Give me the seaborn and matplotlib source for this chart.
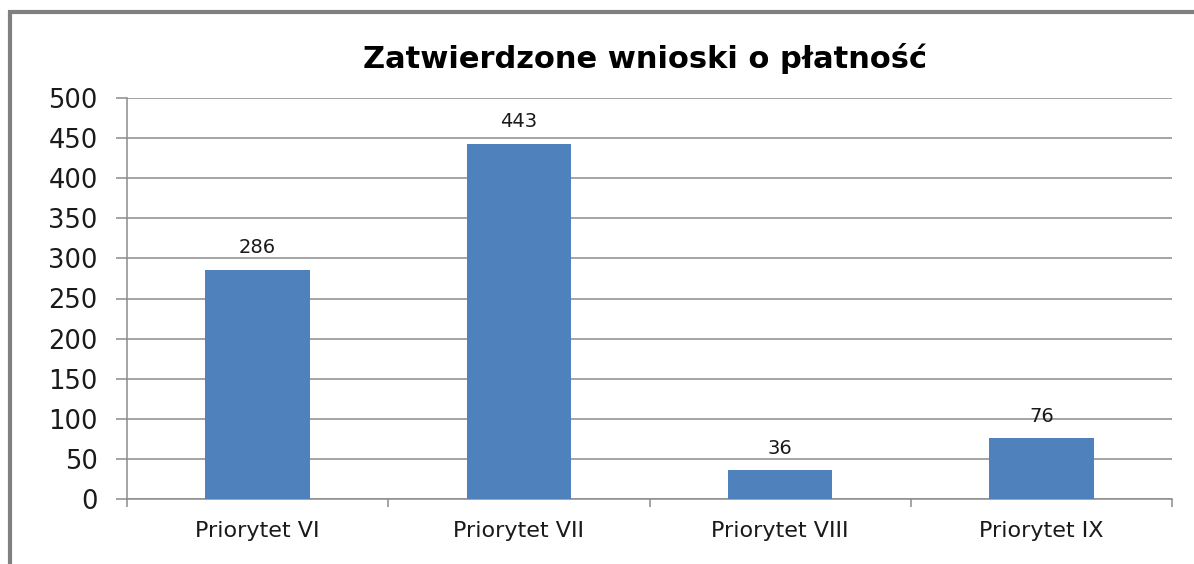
import matplotlib
matplotlib.use("Agg")
import matplotlib.pyplot as plt
from matplotlib.patches import Rectangle
import seaborn as sns
import pandas as pd

categories = ["Priorytet VI", "Priorytet VII", "Priorytet VIII", "Priorytet IX"]
values = [286, 443, 36, 76]
title = "Zatwierdzone wnioski o płatność"
yticks = [0, 50, 100, 150, 200, 250, 300, 350, 400, 450, 500]

sns.set_theme(style="white")
plt.rcParams['font.family'] = ['DejaVu Sans']

df = pd.DataFrame({"cat": categories, "val": values})

fig = plt.figure(figsize=(11.94, 5.64), dpi=100)
ax = fig.add_axes([127/1194, 1-499/564, (1172-127)/1194, (499-98)/564])

sns.barplot(data=df, x="cat", y="val", color="#4F81BD", saturation=1, width=0.4,
            linewidth=0, ax=ax, zorder=3)

ax.set_ylim(0, 500)
ax.set_xlim(-0.5, len(categories) - 0.5)
ax.set_yticks(yticks)
ax.set_yticklabels([str(t) for t in yticks], fontsize=18.5, color="#1a1a1a")
ax.yaxis.grid(True, color="#8c8c8c", linewidth=1.1, zorder=0)
ax.set_axisbelow(True)

# category boundaries as major ticks, labels at centers as minor ticks
ax.set_xticks([i - 0.5 for i in range(len(categories) + 1)])
ax.set_xticklabels([])
ax.set_xticks(range(len(categories)), minor=True)
ax.set_xticklabels(categories, minor=True, fontsize=16, color="#1a1a1a")
ax.tick_params(axis="x", which="major", direction="out", length=6, width=1.1, color="#8c8c8c", bottom=True)
ax.tick_params(axis="x", which="minor", length=0, pad=16, bottom=True)
ax.tick_params(axis="y", direction="out", length=8, width=1.1, color="#8c8c8c", pad=13, left=True)
ax.set_xlabel("")
ax.set_ylabel("")

for s in ["top", "right"]:
    ax.spines[s].set_visible(False)
for s in ["left", "bottom"]:
    ax.spines[s].set_color("#8c8c8c")
    ax.spines[s].set_linewidth(1.1)

ax.bar_label(ax.containers[0], labels=[str(v) for v in values], padding=9, fontsize=14, color="#1a1a1a")

fig.text(645/1194, 1-58/564, title, ha="center", va="center", fontsize=22, fontweight="bold", color="black")

fig.patches.append(Rectangle((10/1194, -0.1), 1.2, 1 - 12/564 + 0.1, transform=fig.transFigure,
                             fill=False, edgecolor="#808080", linewidth=3, figure=fig))

fig.savefig("out.png", dpi=100)
